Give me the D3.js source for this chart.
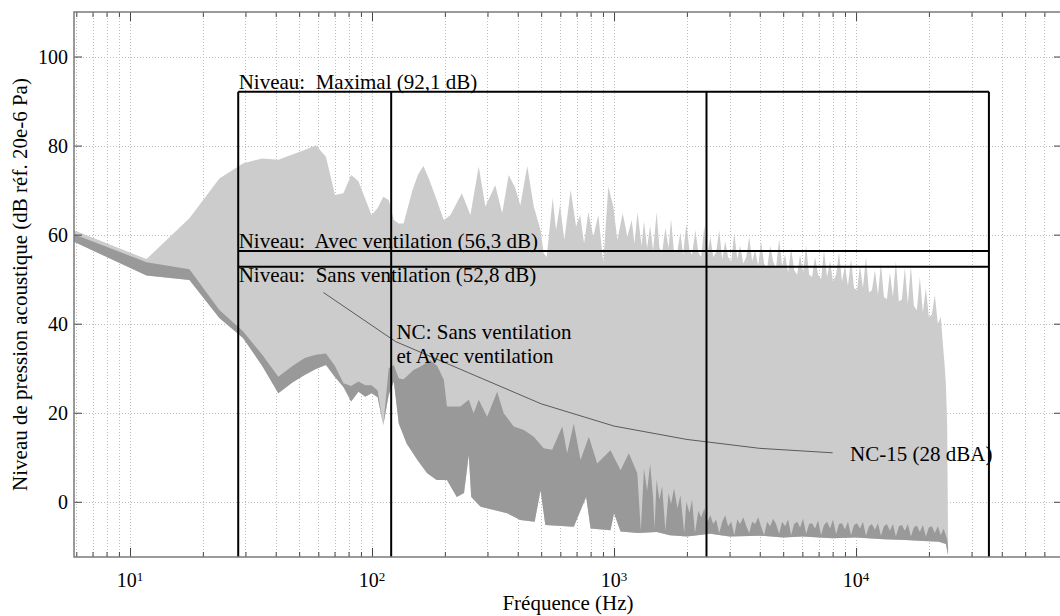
<!DOCTYPE html>
<html>
<head>
<meta charset="utf-8">
<script src="https://cdn.jsdelivr.net/npm/d3@7"></script>
<style>
  body { margin: 0; background: #fff; }
</style>
</head>
<body>
<svg id="chart" width="1060" height="616"></svg>
<script>
// ---------- Spectre : niveau maximal (Hz, dB) ----------
const maxFreq = [5.87, 11.7, 17.6, 23.4, 29.3, 35.2, 41.0, 46.9, 52.7, 58.6,
  64.5, 70.3, 76.2, 82.0, 87.9, 93.8, 99.6, 105.5, 111.3, 117.2,
  123, 129, 135, 147, 155, 163, 172, 183, 198, 211,
  235, 255, 276, 294, 323, 345, 367, 391, 410, 438,
  466, 497, 512, 527, 558, 576, 598, 623, 662, 697,
  724, 752, 783, 821, 861, 903, 947, 993, 1032, 1086,
  1135, 1183, 1215, 1250,
  1300, 1330, 1370, 1410, 1450, 1500, 1540, 1580, 1630,
  1680, 1720, 1770, 1830, 1880, 1930, 1990, 2050, 2100, 2170,
  2230, 2290, 2360, 2430, 2500, 2570, 2640, 2720, 2800, 2880,
  2960, 3050, 3140, 3230, 3320, 3420, 3520, 3620, 3720, 3830,
  3940, 4050, 4170, 4290, 4420, 4540, 4670, 4810, 4950, 5090,
  5240, 5390, 5550, 5710, 5870, 6040, 6220, 6400, 6580, 6770,
  6970, 7170, 7370, 7590, 7810, 8030, 8270, 8500, 8750, 9000,
  9260, 9530, 9810, 10090, 10380, 10680, 10990, 11310, 11630, 11970,
  12320, 12670, 13040, 13410, 13800, 14200, 14610, 15030, 15470, 15910,
  16370, 16850, 17330, 17830, 18350, 18880, 19430, 19990, 20570, 21160,
  21770, 22400, 22800, 23200, 23500, 23800, 24000];
const maxLevel = [61.0, 54.5, 63.7, 72.6, 76.0, 77.1, 76.8, 78.0, 79.0, 80.1,
  77.5, 68.9, 69.3, 73.4, 72.0, 68.0, 64.4, 66.0, 68.5, 67.8,
  63.3, 62.5, 62.5, 70.0, 73.5, 75.4, 72.5, 68.5, 63.3, 64.4,
  69.3, 64.4, 75.3, 66.3, 71.1, 64.8, 73.4, 70.4, 66.6, 75.4,
  66.3, 61.0, 55.8, 55.0, 68.2, 61.0, 66.7, 58.8, 70.0, 61.8,
  64.4, 58.0, 65.1, 59.5, 64.4, 53.6, 70.8, 66.3, 58.8, 64.8,
  59.5, 63.3, 58.0, 65.0,
  57.5, 63.0, 57.0, 62.0, 56.5, 65.0, 57.0, 56.0, 61.5,
  57.0, 63.5, 56.0, 56.5, 60.5, 55.5, 62.5, 56.5, 55.5, 61.0,
  56.0, 55.0, 62.0, 55.5, 59.5, 55.0, 56.0, 61.0, 54.5, 58.5,
  55.0, 54.0, 60.5, 54.5, 57.5, 53.5, 55.0, 59.5, 54.0, 56.5,
  53.0, 58.5, 53.5, 52.5, 57.5, 54.0, 52.5, 59.0, 53.0, 55.5,
  51.5, 57.0, 52.0, 51.0, 55.5, 51.5, 57.5, 51.0, 50.5, 55.0,
  51.0, 50.0, 56.5, 50.5, 54.0, 49.5, 51.0, 56.0, 49.5, 53.0,
  48.5, 54.5, 48.0, 47.5, 53.0, 48.0, 55.0, 47.0, 47.5, 52.0,
  46.5, 53.5, 46.0, 45.5, 51.5, 46.0, 54.0, 45.0, 45.5, 52.5,
  44.5, 53.0, 44.0, 43.0, 50.5, 42.5, 48.0, 41.5, 42.0, 46.5,
  40.0, 41.5, 36.0, 31.0, 26.5, 17.0, -10.0];

// ---------- Spectre : avec ventilation (Hz, dB) ----------
const avecFreq = [5.87, 11.7, 17.6, 23.4, 29.3, 35.2, 41.0, 46.9, 52.7, 58.6,
  64.5, 70.3, 76.2, 82.0, 87.9, 93.8, 99.6, 105.5, 111.3, 117.2,
  123, 129, 135, 148.5, 160, 174, 186, 198, 204, 232,
  251, 263, 276, 299, 329, 350, 385, 424, 466, 512,
  555, 611, 640, 682, 727, 787, 852, 967, 1064, 1151,
  1248, 1290, 1330, 1370, 1410, 1450, 1470, 1500, 1540, 1580,
  1630, 1680, 1720, 1770, 1830, 1880, 1950, 1990, 2050, 2100,
  2160, 2230, 2290, 2360, 2430, 2500, 2570, 2640, 2720, 2800,
  2880, 2960, 3050, 3140, 3230, 3320, 3420, 3520, 3620, 3720,
  3830, 3940, 4050, 4170, 4290, 4420, 4540, 4670, 4810, 4950,
  5090, 5240, 5390, 5550, 5710, 5870, 6040, 6220, 6400, 6580,
  6770, 6970, 7170, 7370, 7590, 7810, 8030, 8270, 8500, 8750,
  9000, 9260, 9530, 9810, 10090, 10380, 10680, 10990, 11310, 11630,
  11970, 12320, 12670, 13040, 13410, 13800, 14200, 14610, 15030, 15470,
  15910, 16370, 16850, 17330, 17830, 18350, 18880, 19430, 19990, 20570,
  21160, 21770, 22400, 23000, 23500, 23800, 24000];
const avecLevel = [60.1, 53.8, 52.2, 43.1, 38.3, 33.0, 28.1, 30.5, 32.3, 33.0,
  33.3, 30.5, 26.6, 26.0, 27.0, 26.2, 26.2, 25.0, 17.2, 30.0,
  30.7, 27.7, 27.5, 29.6, 30.5, 31.8, 30.5, 27.4, 21.4, 21.4,
  22.9, 19.9, 22.9, 19.1, 24.7, 19.9, 16.9, 16.1, 14.6, 12.0,
  11.7, 16.9, 10.9, 17.6, 9.4, 14.6, 8.6, 11.6, 7.1, 10.9,
  6.4, -6.5, 7.5, 2.5, 8.5, 1.0, -6.0, 5.0, 0.5, 3.5,
  -6.5, 2.0, -0.5, 3.0, -1.5, 1.5, -7.0, 0.0, -2.5, 0.5,
  -7.0, -2.0, -3.5, -1.5, -4.5, -3.0, -5.0, -4.0, -7.0, -4.5,
  -3.0, -5.5, -4.5, -7.5, -4.0, -5.0, -3.5, -5.5, -7.0, -4.5,
  -5.0, -3.5, -5.5, -7.5, -4.5, -5.5, -3.8, -5.0, -7.2, -4.5,
  -5.5, -4.0, -7.5, -5.0, -4.5, -5.8, -3.8, -7.2, -5.0, -4.8,
  -6.0, -4.2, -7.5, -5.2, -4.5, -6.0, -4.0, -7.3, -5.0, -4.8,
  -6.2, -4.5, -7.5, -5.2, -4.8, -6.0, -4.5, -7.6, -5.5, -5.0,
  -6.3, -4.8, -7.6, -5.5, -5.0, -6.5, -5.0, -7.8, -5.5, -5.2,
  -6.5, -5.0, -7.8, -5.8, -5.3, -6.8, -5.2, -7.8, -5.8, -5.5,
  -7.0, -5.5, -7.5, -6.0, -7.5, -8.5, -10.5];

// ---------- Spectre : sans ventilation (Hz, dB) ----------
const sansFreq = [5.87, 11.7, 17.6, 23.4, 29.3, 35.2, 41.0, 46.9, 52.7, 58.6,
  64.5, 70.3, 76.2, 82.0, 87.9, 93.8, 99.6, 105.5, 111.3, 117.2,
  123, 129, 139, 154, 169, 185, 204, 224, 240, 251,
  257, 281, 362, 410, 470, 497, 520, 682, 767, 800,
  967, 1000, 1064, 1260, 1500, 1700, 2000, 2500, 3000, 4000,
  5000, 6000, 8000, 10000, 13000, 16000, 19000, 22000, 23500, 24000];
const sansLevel = [58.4, 50.8, 49.8, 41.3, 36.8, 30.5, 24.4, 26.8, 28.5, 29.8,
  30.7, 28.0, 25.8, 22.5, 24.7, 23.6, 24.4, 23.5, 17.2, 24.0,
  27.0, 17.6, 13.1, 9.4, 6.4, 4.9, 4.9, 1.1, 2.0, 10.5,
  1.1, -1.1, -2.6, -4.1, -4.5, 2.6, -5.2, -5.6, 1.1, -6.0,
  -6.4, -2.6, -6.7, -7.0, -6.8, -7.5, -7.8, -7.2, -7.8, -7.6,
  -8.0, -7.8, -8.2, -8.0, -8.4, -8.6, -8.8, -9.0, -9.5, -12.0];

// ---------- Courbe NC-15 (bandes d'octave) ----------
const ncFreq = [63, 125, 250, 500, 1000, 2000, 4000, 8000];
const ncLevel = [47, 36, 29, 22, 17, 14, 12, 11];

// ---------- Niveaux globaux et bornes des bandes ----------
const bandEdges = [28, 120, 2410, 35400];
const levelNames = ["Maximal (92,1 dB)", "Avec ventilation (56,3 dB)", "Sans ventilation (52,8 dB)"];
const levelValues = [92.1, 56.3, 52.8];

// ---------- Axes ----------
const xMajorTicks = [10, 100, 1000, 10000];
const xTickExponents = ["1", "2", "3", "4"];
const yTicks = [0, 20, 40, 60, 80, 100];

const FONT = "'Liberation Serif', 'Times New Roman', Times, serif";
const plot = { left: 74, right: 1062, top: 12, bottom: 557 };
const x = d3.scaleLog().domain([5.87, 70950]).range([plot.left, plot.right]);
const y = d3.scaleLinear().domain([-12.4, 110]).range([plot.bottom, plot.top]);

const svg = d3.select("#chart").attr("font-family", FONT);
svg.append("defs").append("clipPath").attr("id", "plotClip")
  .append("rect")
  .attr("x", plot.left).attr("y", plot.top)
  .attr("width", plot.right - plot.left).attr("height", plot.bottom - plot.top);

// Grille pointillée
const grid = svg.append("g").attr("clip-path", "url(#plotClip)")
  .attr("stroke", "#bfbfbf").attr("stroke-width", 1).attr("stroke-dasharray", "1,2");
grid.selectAll("line.gx").data(x.ticks()).join("line")
  .attr("x1", d => Math.round(x(d)) + 0.5).attr("x2", d => Math.round(x(d)) + 0.5)
  .attr("y1", plot.top).attr("y2", plot.bottom);
grid.selectAll("line.gy").data(yTicks).join("line")
  .attr("x1", plot.left).attr("x2", plot.right)
  .attr("y1", d => Math.round(y(d)) + 0.5).attr("y2", d => Math.round(y(d)) + 0.5);

// Zones spectrales : du spectre maximal au spectre sans ventilation, puis avec -> sans
const toPts = (fs, ls) => fs.map((f, i) => [x(f), y(ls[i])]);
const band = (upper, lower) => "M" + upper.map(p => p.join(",")).join("L") +
  "L" + lower.slice().reverse().map(p => p.join(",")).join("L") + "Z";

const maxPts = toPts(maxFreq, maxLevel);
const avecPts = toPts(avecFreq, avecLevel);
const sansPts = toPts(sansFreq, sansLevel);

const fills = svg.append("g").attr("clip-path", "url(#plotClip)");
fills.append("path").attr("d", band(maxPts, sansPts)).attr("fill", "#cccccc");
fills.append("path").attr("d", band(avecPts, sansPts)).attr("fill", "#999999");

// Courbe NC
const ncLine = d3.line().x((d, i) => x(ncFreq[i])).y(d => y(d));
fills.append("path").attr("d", ncLine(ncLevel))
  .attr("fill", "none").attr("stroke", "#5a5a5a").attr("stroke-width", 1);

// Niveaux globaux
const lines = svg.append("g").attr("clip-path", "url(#plotClip)")
  .attr("stroke", "#000").attr("stroke-width", 2);
lines.selectAll("line.h").data(levelValues).join("line")
  .attr("x1", x(bandEdges[0])).attr("x2", x(bandEdges[3]))
  .attr("y1", d => y(d)).attr("y2", d => y(d));
lines.selectAll("line.v").data(bandEdges).join("line")
  .attr("x1", d => x(d)).attr("x2", d => x(d))
  .attr("y1", y(levelValues[0])).attr("y2", plot.bottom);

// Cadre et graduations
const axisColor = "#7a7a7a";
function tidy(g) {
  g.select(".domain").remove();
  g.selectAll(".tick line").attr("stroke", "#444").attr("stroke-width", 1);
  g.selectAll(".tick text").remove();
}
const minor = x.ticks().filter(d => !xMajorTicks.includes(d));
svg.append("g").attr("transform", `translate(0,${plot.bottom})`)
  .call(d3.axisBottom(x).tickValues(minor).tickSize(-5)).call(tidy);
svg.append("g").attr("transform", `translate(0,${plot.bottom})`)
  .call(d3.axisBottom(x).tickValues(xMajorTicks).tickSize(-9)).call(tidy);
svg.append("g").attr("transform", `translate(0,${plot.top})`)
  .call(d3.axisTop(x).tickValues(minor).tickSize(-5)).call(tidy);
svg.append("g").attr("transform", `translate(0,${plot.top})`)
  .call(d3.axisTop(x).tickValues(xMajorTicks).tickSize(-9)).call(tidy);
svg.append("g").attr("transform", `translate(${plot.left},0)`)
  .call(d3.axisLeft(y).tickValues(yTicks).tickSize(-8)).call(tidy);
svg.append("g").attr("transform", `translate(${plot.right},0)`)
  .call(d3.axisRight(y).tickValues(yTicks).tickSize(-8)).call(tidy);

svg.append("rect")
  .attr("x", plot.left).attr("y", plot.top)
  .attr("width", plot.right - plot.left).attr("height", plot.bottom - plot.top)
  .attr("fill", "none").attr("stroke", axisColor).attr("stroke-width", 1.5);

// Étiquettes des graduations
const labels = svg.append("g").attr("fill", "#000");
labels.selectAll("text.yl").data(yTicks).join("text")
  .attr("x", plot.left - 6).attr("y", d => y(d) + 7)
  .attr("text-anchor", "end").attr("font-size", 20)
  .text(d => d);

const xl = labels.selectAll("text.xl").data(xMajorTicks).join("text")
  .attr("x", d => x(d)).attr("y", 587)
  .attr("text-anchor", "middle").attr("font-size", 20);
xl.append("tspan").text("10");
xl.append("tspan").attr("dy", -6).attr("font-size", 13).text((d, i) => xTickExponents[i]);

// Titres des axes
labels.append("text")
  .attr("x", (plot.left + plot.right) / 2).attr("y", 610)
  .attr("text-anchor", "middle").attr("font-size", 21)
  .text("Fréquence (Hz)");
labels.append("text")
  .attr("transform", `translate(27,${(plot.top + plot.bottom) / 2}) rotate(-90)`)
  .attr("text-anchor", "middle").attr("font-size", 21)
  .text("Niveau de pression acoustique (dB réf. 20e-6 Pa)");

// Annotations des niveaux
const levelOffsets = [-2.5, -3, 15];
labels.selectAll("text.lv").data(levelValues).join("text")
  .attr("x", x(bandEdges[0]) + 0.5)
  .attr("y", (d, i) => y(d) + levelOffsets[i])
  .attr("font-size", 21)
  .attr("xml:space", "preserve").style("white-space", "pre")
  .text((d, i) => "Niveau:  " + levelNames[i]);

// Annotations NC (deux lignes)
labels.append("text").attr("x", x(ncFreq[1]) + 1).attr("y", y(ncLevel[1]) - 2.5)
  .attr("font-size", 21).text("NC: Sans ventilation");
labels.append("text").attr("x", x(ncFreq[1]) + 1).attr("y", y(ncLevel[1]) + 21.5)
  .attr("font-size", 21).text("et Avec ventilation");
labels.append("text").attr("x", x(ncFreq[7]) + 17.5).attr("y", y(ncLevel[7]) + 8)
  .attr("font-size", 21).text("NC-15 (28 dBA)");
</script>
</body>
</html>
